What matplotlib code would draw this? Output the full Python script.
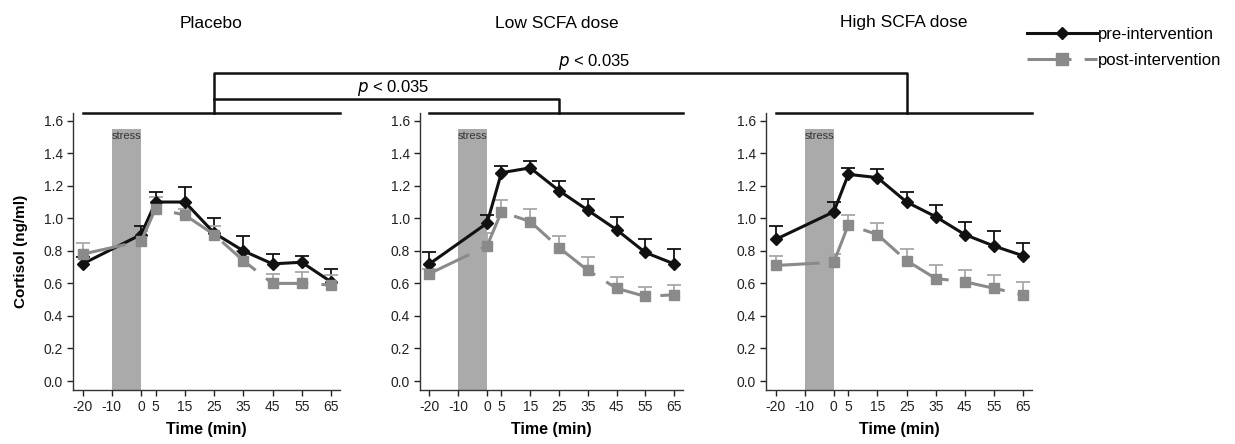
import numpy as np
import matplotlib
matplotlib.use('Agg')
import matplotlib.pyplot as plt
import matplotlib.transforms as mtransforms
from matplotlib.lines import Line2D

plt.rcParams['font.family'] = ['Liberation Sans', 'DejaVu Sans']

# time points (min)
times = [-20, 0, 5, 15, 25, 35, 45, 55, 65]
xticks = [-20, -10, 0, 5, 15, 25, 35, 45, 55, 65]
groups = ['Placebo', 'Low SCFA dose', 'High SCFA dose']

# cortisol means (ng/ml) and top of error bar
pre_mean = [
    [0.72, 0.90, 1.10, 1.10, 0.91, 0.80, 0.72, 0.73, 0.61],
    [0.72, 0.97, 1.28, 1.31, 1.17, 1.05, 0.93, 0.79, 0.72],
    [0.87, 1.04, 1.27, 1.25, 1.10, 1.01, 0.90, 0.83, 0.77],
]
pre_top = [
    [0.76, 0.95, 1.16, 1.19, 1.00, 0.89, 0.78, 0.77, 0.69],
    [0.79, 1.02, 1.32, 1.35, 1.23, 1.12, 1.01, 0.87, 0.81],
    [0.95, 1.10, 1.31, 1.30, 1.16, 1.08, 0.98, 0.92, 0.85],
]
post_mean = [
    [0.78, 0.86, 1.06, 1.02, 0.90, 0.74, 0.60, 0.60, 0.59],
    [0.66, 0.83, 1.04, 0.98, 0.82, 0.68, 0.57, 0.52, 0.53],
    [0.71, 0.73, 0.96, 0.90, 0.74, 0.63, 0.61, 0.57, 0.53],
]
post_top = [
    [0.85, 0.92, 1.13, 1.06, 0.95, 0.80, 0.66, 0.67, 0.65],
    [0.69, 0.91, 1.11, 1.06, 0.89, 0.76, 0.64, 0.58, 0.59],
    [0.77, 0.78, 1.02, 0.97, 0.81, 0.71, 0.68, 0.65, 0.61],
]
p_label = r'$\it{p}$ < 0.035'

fig = plt.figure(figsize=(12.35, 4.44), dpi=100)
W, H = 1235, 444
lefts = [73, 420, 766]
rights = [340, 683, 1032]
top_px, bot_px = 113, 390
xlim = (-23.3, 68.1)
ylim = (-0.055, 1.647)

black = '#111111'
grey = '#8a8a8a'
grey_err = '#a8a8a8'
post_dash = (14.4, 4.3)

axes = []
for i in range(3):
    ax = fig.add_axes([lefts[i] / W, 1 - bot_px / H, (rights[i] - lefts[i]) / W, (bot_px - top_px) / H])
    axes.append(ax)
    ax.set_xlim(*xlim)
    ax.set_ylim(*ylim)

    # stress period
    ax.fill_between([-10, 0], ylim[0], 1.55, color='#aaaaaa', lw=0, zorder=0)
    ax.text(-5, 1.535, 'stress', ha='center', va='top', fontsize=8, color='#333333')

    t = np.array(times)
    pm, pt = np.array(pre_mean[i]), np.array(pre_top[i])
    qm, qt = np.array(post_mean[i]), np.array(post_top[i])

    # upper error bars
    ax.vlines(t, pm, pt, color=black, lw=1.3, zorder=2)
    ax.plot(t, pt, '_', color=black, ms=10, mew=1.3, zorder=2)
    ax.vlines(t, qm, qt, color=grey_err, lw=1.3, zorder=2)
    ax.plot(t, qt, '_', color=grey_err, ms=10, mew=1.3, zorder=2)

    ax.plot(t, pm, color=black, lw=2.2, marker='D', ms=6.5, zorder=3)
    ax.plot(t, qm, color=grey, lw=2.2, marker='s', ms=7.5, zorder=4, dashes=post_dash)

    ax.set_xticks(xticks)
    ax.set_xticklabels([str(v) for v in xticks])
    ax.set_yticks(np.arange(0, 1.61, 0.2))
    ax.set_yticklabels([f'{v:.1f}' for v in np.arange(0, 1.61, 0.2)])
    ax.tick_params(direction='out', length=4.3, width=1, pad=3, labelsize=10, colors='#222222')
    for s in ['top', 'right']:
        ax.spines[s].set_visible(False)
    for s in ['left', 'bottom']:
        ax.spines[s].set_color('#333333')
        ax.spines[s].set_linewidth(1)
    ax.set_xlabel('Time (min)', fontsize=11.5, fontweight='bold', labelpad=6)

    # top line of each panel
    trans = mtransforms.blended_transform_factory(ax.transData, ax.transAxes)
    ax.plot([-20, xlim[1]], [1, 1], transform=trans, color=black, lw=1.8, clip_on=False)

    fig.text((lefts[i] + rights[i]) / 2 / W + 0.004, 1 - 23 / H, groups[i],
             ha='center', va='center', fontsize=12.5)

axes[0].set_ylabel('Cortisol (ng/ml)', fontsize=11, fontweight='bold', labelpad=11)

# significance brackets
over = fig.add_axes([0, 0, 1, 1])
over.set_xlim(0, W)
over.set_ylim(H, 0)
over.axis('off')
xs = [ax.transData.transform((25, 0))[0] for ax in axes]
over.plot([xs[0], xs[0], xs[2], xs[2]], [top_px, 73, 73, top_px], color=black, lw=1.8)
over.plot([xs[0], xs[1], xs[1]], [99, 99, top_px], color=black, lw=1.8)
over.text(594, 62, p_label, ha='center', va='center', fontsize=12)
over.text(393, 88, p_label, ha='center', va='center', fontsize=12)

# legend
handles = [
    Line2D([], [], color=black, lw=2.2, marker='D', ms=6),
    Line2D([], [], color=grey, lw=2.2, marker='s', ms=8, dashes=post_dash),
]
fig.legend(handles, ['pre-intervention', 'post-intervention'], loc='upper left',
           bbox_to_anchor=(1027 / W, 1 - 27 / H), frameon=False, fontsize=12,
           handlelength=4.2, handletextpad=0.05, labelspacing=0.65, borderaxespad=0,
           borderpad=0)

fig.savefig('out.png', dpi=100)
